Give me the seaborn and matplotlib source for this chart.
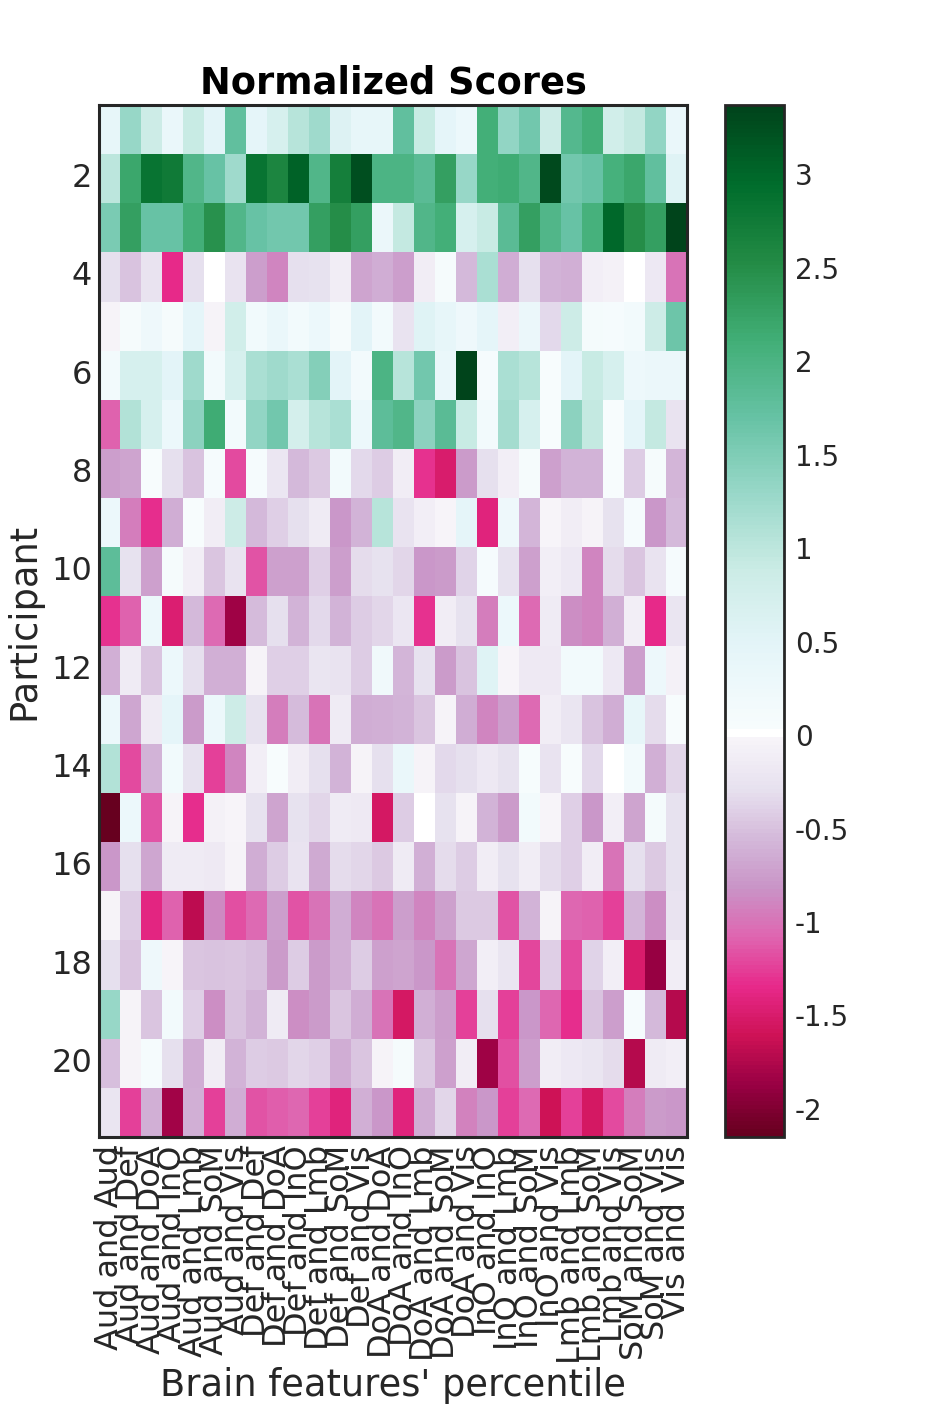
import numpy as np
import pandas as pd
import matplotlib
matplotlib.use("Agg")
import matplotlib.pyplot as plt
import seaborn as sns
from matplotlib.colors import ListedColormap

sns.set_style("ticks")
plt.rcParams["font.family"] = ["DejaVu Sans"]
plt.rcParams["axes.unicode_minus"] = False

feature_labels = [
    "Aud and Aud", "Aud and Def", "Aud and DoA", "Aud and InO", "Aud and Lmb", "Aud and SoM", "Aud and Vis",
    "Def and Def", "Def and DoA", "Def and InO", "Def and Lmb", "Def and SoM", "Def and Vis",
    "DoA and DoA", "DoA and InO", "DoA and Lmb", "DoA and SoM", "DoA and Vis",
    "InO and InO", "InO and Lmb", "InO and SoM", "InO and Vis",
    "Lmb and Lmb", "Lmb and SoM", "Lmb and Vis",
    "SoM and SoM", "SoM and Vis", "Vis and Vis",
]
participants = list(range(1, 22))

p01 = [0.4, 1.3, 0.85, 0.35, 0.9, 0.5, 1.75, 0.45, 0.7, 1.05, 1.25, 0.6, 0.42, 0.42, 1.75, 0.9, 0.45, 0.3, 2.1, 1.35, 1.6, 0.85, 1.9, 2.1, 0.8, 0.95, 1.35, 0.35]
p02 = [1.0, 2.2, 2.85, 2.75, 1.95, 1.7, 1.25, 2.85, 2.6, 3.05, 1.95, 2.7, 3.25, 2.0, 2.0, 1.85, 2.3, 1.3, 2.1, 2.15, 1.95, 3.3, 1.6, 1.7, 2.05, 2.2, 1.75, 0.55]
p03 = [1.55, 2.3, 1.7, 1.7, 2.1, 2.45, 1.95, 1.7, 1.6, 1.6, 2.3, 2.5, 2.3, 0.33, 0.95, 1.95, 2.1, 0.7, 0.9, 1.85, 2.3, 1.95, 1.7, 2.05, 3.0, 2.5, 2.3, 3.35]
p04 = [-0.3, -0.5, -0.25, -1.35, -0.3, 0.0, -0.25, -0.75, -0.9, -0.3, -0.27, -0.12, -0.7, -0.65, -0.75, -0.12, 0.1, -0.55, 1.15, -0.65, -0.3, -0.6, -0.63, -0.1, -0.07, 0.0, -0.2, -1.0]
p05 = [-0.05, 0.1, 0.25, 0.1, 0.45, -0.05, 0.8, 0.2, 0.35, 0.17, 0.3, 0.1, 0.5, 0.15, -0.25, 0.55, 0.4, 0.25, 0.45, -0.1, 0.33, -0.35, 0.85, 0.12, 0.08, 0.17, 0.85, 1.65]
p06 = [0.17, 0.7, 0.7, 0.5, 1.25, 0.15, 0.7, 1.15, 1.25, 1.15, 1.45, 0.5, 0.17, 2.0, 1.05, 1.6, 0.35, 3.37, 0.08, 1.15, 1.05, 0.05, 0.5, 0.9, 0.7, 0.27, 0.33, 0.33]
p07 = [-1.1, 1.1, 0.7, 0.3, 1.4, 2.15, 0.15, 1.35, 1.6, 0.75, 1.05, 1.15, 0.3, 1.8, 1.95, 1.4, 1.85, 0.9, 0.15, 1.2, 0.7, 0.05, 1.4, 0.95, 0.05, 0.45, 0.95, -0.25]
p08 = [-0.75, -0.7, 0.05, -0.3, -0.5, 0.08, -1.2, 0.08, -0.22, -0.55, -0.45, 0.15, -0.35, -0.43, -0.12, -1.3, -1.5, -0.77, -0.3, -0.1, 0.1, -0.72, -0.6, -0.6, 0.05, -0.42, 0.1, -0.57]
p09 = [0.3, -0.95, -1.33, -0.65, 0.05, -0.13, 0.85, -0.55, -0.4, -0.3, -0.15, -0.8, -0.6, 1.05, -0.25, -0.1, -0.03, 0.45, -1.42, 0.25, -0.57, -0.02, -0.12, -0.05, -0.27, 0.08, -0.8, -0.55]
p10 = [1.8, -0.27, -0.72, 0.1, -0.1, -0.48, -0.25, -1.15, -0.73, -0.73, -0.4, -0.75, -0.33, -0.27, -0.37, -0.8, -0.78, -0.38, 0.08, -0.27, -0.72, -0.1, -0.2, -0.9, -0.32, -0.48, -0.25, 0.08]
p11 = [-1.3, -1.1, 0.3, -1.48, -0.55, -1.05, -1.85, -0.53, -0.3, -0.6, -0.35, -0.6, -0.42, -0.37, -0.22, -1.3, -0.12, -0.27, -0.95, 0.3, -1.05, -0.15, -0.85, -0.9, -0.62, -0.1, -1.35, -0.23]
p12 = [-0.62, -0.15, -0.48, 0.3, -0.3, -0.63, -0.62, -0.05, -0.4, -0.4, -0.23, -0.25, -0.43, 0.22, -0.58, -0.27, -0.77, -0.5, 0.55, -0.03, -0.18, -0.17, 0.17, 0.17, -0.2, -0.75, 0.27, -0.07]
p13 = [0.3, -0.68, -0.15, 0.45, -0.78, 0.3, 0.85, -0.27, -0.95, -0.53, -1.0, -0.15, -0.65, -0.62, -0.6, -0.47, -0.05, -0.65, -0.9, -0.75, -1.05, -0.12, -0.23, -0.5, -0.65, 0.4, -0.32, 0.05]
p14 = [1.1, -1.2, -0.6, 0.2, -0.27, -1.25, -0.9, -0.1, 0.05, -0.12, -0.3, -0.6, -0.05, -0.3, 0.35, -0.05, -0.35, -0.3, -0.2, -0.27, 0.07, -0.25, 0.05, -0.35, 0.0, 0.15, -0.62, -0.37]
p15 = [-2.15, 0.3, -1.15, -0.05, -1.32, -0.07, -0.03, -0.27, -0.7, -0.27, -0.37, -0.15, -0.17, -1.55, -0.42, 0.0, -0.27, -0.05, -0.6, -0.77, 0.17, -0.03, -0.4, -0.8, -0.1, -0.7, 0.12, -0.27]
p16 = [-0.8, -0.3, -0.68, -0.15, -0.15, -0.17, -0.05, -0.65, -0.43, -0.25, -0.67, -0.32, -0.37, -0.45, -0.15, -0.63, -0.33, -0.42, -0.12, -0.27, -0.12, -0.32, -0.4, -0.12, -1.0, -0.3, -0.45, -0.27]
p17 = [-0.05, -0.42, -1.4, -1.1, -1.7, -0.88, -1.18, -1.05, -0.75, -1.15, -1.0, -0.65, -0.9, -1.0, -0.75, -0.9, -0.72, -0.45, -0.45, -1.15, -0.6, -0.05, -1.08, -1.1, -1.25, -0.58, -0.85, -0.25]
p18 = [-0.3, -0.47, 0.25, -0.03, -0.47, -0.5, -0.47, -0.52, -0.77, -0.42, -0.77, -0.62, -0.43, -0.72, -0.7, -0.8, -1.0, -0.68, -0.1, -0.23, -1.22, -0.4, -1.2, -0.38, -0.1, -1.5, -1.88, -0.13]
p19 = [1.3, -0.04, -0.48, 0.15, -0.4, -0.85, -0.5, -0.6, -0.15, -0.85, -0.77, -0.47, -0.65, -1.0, -1.55, -0.62, -0.75, -1.25, -0.3, -1.25, -0.8, -1.08, -1.32, -0.5, -0.75, 0.08, -0.55, -1.73]
p20 = [-0.52, -0.04, 0.08, -0.3, -0.65, -0.12, -0.6, -0.43, -0.45, -0.37, -0.4, -0.65, -0.48, -0.05, 0.1, -0.45, -0.72, -0.12, -1.85, -1.18, -0.75, -0.12, -0.2, -0.23, -0.32, -1.73, -0.15, -0.1]
p21 = [-0.24, -1.25, -0.62, -1.82, -0.63, -1.25, -0.65, -1.15, -1.12, -1.08, -1.25, -1.42, -0.63, -0.8, -1.42, -0.65, -0.37, -0.92, -0.8, -1.25, -1.05, -1.6, -1.25, -1.55, -1.2, -0.95, -0.77, -0.8]

rows = [p01, p02, p03, p04, p05, p06, p07, p08, p09, p10, p11, p12, p13, p14,
        p15, p16, p17, p18, p19, p20, p21]
df = pd.DataFrame(rows, index=participants, columns=feature_labels)

vmin, vmax = -2.15, 3.37
cbar_ticks = [-2, -1.5, -1, -0.5, 0, 0.5, 1, 1.5, 2, 2.5, 3]
ytick_participants = [2, 4, 6, 8, 10, 12, 14, 16, 18, 20]

# diverging map: PuRd below zero, white at zero, BuGn above zero
n_neg = 100
n_pos = 156
neg = plt.get_cmap("PuRd")(np.linspace(1, 0, n_neg))
pos = plt.get_cmap("BuGn")(np.linspace(0, 1, n_pos))
white = np.ones((2, 4))
cmap = ListedColormap(np.vstack([neg, white, pos]))

dark = "#262626"
fig = plt.figure(figsize=(9.45, 14.17), dpi=100)
ax = fig.add_axes([0.1048, 0.1976, 0.6222, 0.7283])
cax = fig.add_axes([0.7672, 0.1976, 0.0624, 0.7283])

sns.heatmap(df, ax=ax, cbar_ax=cax, cmap=cmap, vmin=vmin, vmax=vmax,
            xticklabels=True, yticklabels=True)

for s in ax.spines.values():
    s.set_visible(True)
    s.set_color(dark)
    s.set_linewidth(2.2)

ax.set_xticks(np.arange(len(feature_labels)) + 0.5)
ax.set_xticklabels(feature_labels, rotation=90, fontsize=23, color=dark)
ypos = [participants.index(p) + 0.5 for p in ytick_participants]
ax.set_yticks(ypos)
ax.set_yticklabels([str(p) for p in ytick_participants], rotation=0, fontsize=23, color=dark)
ax.tick_params(axis="x", which="both", bottom=True, top=True, direction="in",
               length=10, width=2, color=dark, pad=6)
ax.tick_params(axis="y", which="both", left=True, right=True, direction="in",
               length=10, width=2, color=dark, pad=5)

ax.set_xlabel("Brain features' percentile", fontsize=26.5, color=dark, labelpad=2)
ax.set_ylabel("Participant", fontsize=26.5, color=dark, labelpad=6)
ax.set_title("Normalized Scores", fontsize=26.5, fontweight="bold", color="black", pad=8)

cb = ax.collections[0].colorbar
cb.set_ticks(cbar_ticks)
cb.set_ticklabels([f"{t:g}" for t in cbar_ticks])
cb.outline.set_visible(True)
cb.outline.set_edgecolor(dark)
cb.outline.set_linewidth(2)
cb.ax.tick_params(direction="in", length=10, width=1.5, color=dark,
                  labelsize=20, labelcolor=dark, pad=8)

fig.savefig("out.png", dpi=100, facecolor="white")
